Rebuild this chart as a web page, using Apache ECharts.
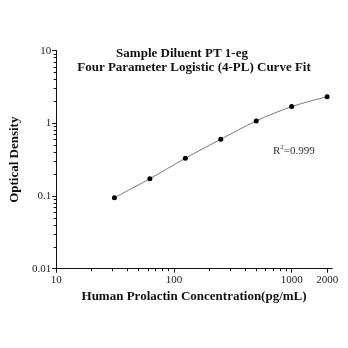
<!DOCTYPE html>
<html><head><meta charset="utf-8">
<script src="https://cdn.jsdelivr.net/npm/echarts@6/dist/echarts.min.js"></script>
<style>html,body{margin:0;padding:0;background:#fff}#c{width:348px;height:348px}</style>
</head><body><div id="c"></div>
<script>
const concentrations = [31.25, 62.5, 125, 250, 500, 1000, 2000];
const opticalDensity = [0.095, 0.173, 0.331, 0.604, 1.08, 1.70, 2.33];
const xTickLabels = [10, 100, 1000, 2000];
const xMinorTicks = [20,30,40,50,60,70,80,90,200,300,400,500,600,700,800,900];
const yTickLabels = [0.01, 0.1, 1, 10];
const yMinorTicks = [0.02,0.03,0.04,0.05,0.06,0.07,0.08,0.09,0.2,0.3,0.4,0.5,0.6,0.7,0.8,0.9,2,3,4,5,6,7,8,9];
const titleLine1 = 'Sample Diluent PT 1-eg';
const titleLine2 = 'Four Parameter Logistic (4-PL) Curve Fit';
const rSquared = '0.999';

const FONT = '"Liberation Serif","Times New Roman",serif';
const chart = echarts.init(document.getElementById('c'), null, {renderer:'canvas'});
const xMin = 10, xMax = 2200, yMin = 0.01, yMax = 10;

const option = {
  animation: false,
  backgroundColor: '#fff',
  title: [
    {text: titleLine1, left: 177, top: 42, textAlign: 'center',
     textStyle:{fontFamily:FONT, fontSize:13, fontWeight:'bold', color:'#111'}},
    {text: titleLine2, left: 189, top: 56, textAlign: 'center',
     textStyle:{fontFamily:FONT, fontSize:13, fontWeight:'bold', color:'#111'}},
    {text: '{a|R}{s|2}{a|=' + rSquared + '}', left: 268, top: 139,
     textStyle:{fontWeight:'normal', rich:{
       a:{fontFamily:FONT, fontSize:11, fontWeight:'normal', color:'#333', verticalAlign:'bottom'},
       s:{fontFamily:FONT, fontSize:7, fontWeight:'normal', color:'#333', verticalAlign:'top', padding:[0,0,6,0]}
     }}}
  ],
  grid: {left: 39.5, right: 16, top: 50.7, bottom: 79.3, containLabel:false},
  xAxis: [
    {type:'log', logBase:10, min:xMin, max:xMax, position:'bottom',
     axisLine:{show:true, onZero:false, lineStyle:{color:'#111', width:1}},
     axisTick:{show:true, inside:false, length:4, customValues: xTickLabels, lineStyle:{color:'#111', width:1}},
     axisLabel:{show:true, customValues: xTickLabels, formatter: v => String(v), margin:6,
       fontFamily:FONT, fontSize:11, color:'#222'},
     splitLine:{show:false}, minorTick:{show:false}, minorSplitLine:{show:false},
     name:'Human Prolactin Concentration(pg/mL)', nameLocation:'middle', nameGap:21,
     nameTextStyle:{fontFamily:FONT, fontSize:13, fontWeight:'bold', color:'#111'}},
    {type:'log', logBase:10, min:xMin, max:xMax, position:'bottom', offset:0,
     axisLine:{show:true, onZero:false, lineStyle:{color:'#111', width:1}},
     axisTick:{show:true, inside:false, length:2.5, customValues: xMinorTicks, lineStyle:{color:'#111', width:1}},
     axisLabel:{show:false}, splitLine:{show:false}}
  ],
  yAxis: [
    {type:'log', logBase:10, min:yMin, max:yMax, position:'left',
     axisLine:{show:true, onZero:false, lineStyle:{color:'#111', width:1}},
     axisTick:{show:true, inside:false, length:4, customValues: yTickLabels, lineStyle:{color:'#111', width:1}},
     axisLabel:{show:true, customValues: yTickLabels, formatter: v => String(v), margin:5,
       fontFamily:FONT, fontSize:11, color:'#222'},
     splitLine:{show:false}, minorTick:{show:false},
     name:'Optical Density', nameLocation:'middle', nameGap:27,
     nameTextStyle:{fontFamily:FONT, fontSize:13, fontWeight:'bold', color:'#111'}},
    {type:'log', logBase:10, min:yMin, max:yMax, position:'left', offset:0,
     axisLine:{show:true, onZero:false, lineStyle:{color:'#111', width:1}},
     axisTick:{show:true, inside:false, length:2.5, customValues: yMinorTicks, lineStyle:{color:'#111', width:1}},
     axisLabel:{show:false}, splitLine:{show:false}}
  ],
  series: [{
    type:'line', xAxisIndex:0, yAxisIndex:0,
    data: concentrations.map((c,i)=>[c, opticalDensity[i]]),
    smooth: 0.3,
    symbol:'circle', symbolSize:5,
    itemStyle:{color:'#000'},
    lineStyle:{color:'#777', width:1}
  }]
};
chart.setOption(option);
</script></body></html>
